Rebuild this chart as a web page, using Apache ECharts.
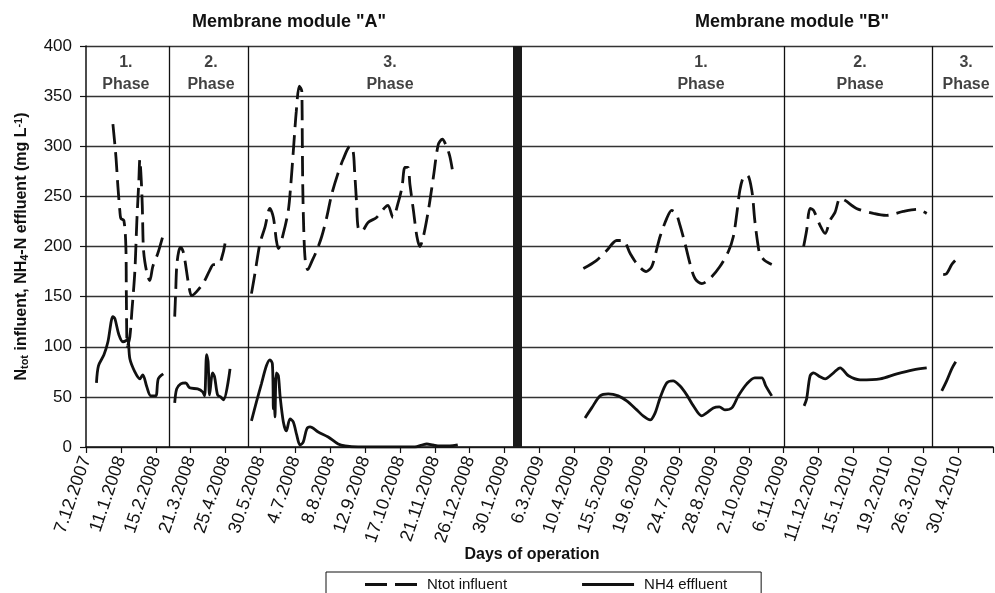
<!DOCTYPE html>
<html><head><meta charset="utf-8">
<script src="https://cdn.jsdelivr.net/npm/echarts@6/dist/echarts.min.js"></script>
<style>html,body{margin:0;padding:0;background:#fff}#c{width:995px;height:593px}</style>
</head><body><div id="c"></div>
<script>
// x values are days of operation counted from 7.12.2007
const START = Date.UTC(2007, 11, 7);
const tickStep = 35;
const xMax = 910;

const ntotA1 = [[27,322],[30,290],[32,260],[34,235],[35,228],[38,226],[40,200],[40.5,150],[41.5,100],[44,110],[46,135],[49,175],[51,225],[53,265],[54,287],[55.5,265],[56.5,240],[57.5,200],[59,185],[62,170],[64,166],[67,180],[72,193],[77,210]];
const ntotA2 = [[89,130],[90,155],[91,180],[93,195],[95,199],[98,193],[103,162],[106,151],[111,155],[118,164],[124,176],[128,182],[133,182],[136,188],[139.5,203]];
const ntotA3 = [[166,153],[169.5,173],[174.5,203],[179.5,219],[184.5,238],[188,229],[191,206],[193,198],[198,213],[203,236],[205.5,262],[208,295],[211,335],[214,360],[216.5,355],[217,308],[217.5,259],[218.5,216],[220,186],[222.5,177],[226.5,185],[231.5,196],[236.5,210],[241.5,229],[246.5,252],[252.5,272],[258,287],[265,300],[268,295],[269.5,275],[271.5,243],[273,219],[276.5,215],[283,224],[291.5,229],[300,239],[303,241],[308,229],[313,243],[317,259],[320,279],[323,279],[325,262],[328.5,236],[332,210],[335,200],[338.5,210],[343.5,236],[348.5,269],[353.5,302],[357.5,307],[362,299],[365,290],[367.5,277]];
const ntotB1 = [[499,178],[512,186],[522.5,196],[532.5,206],[539,206],[546,193],[552.6,183],[562,175],[567.6,180],[572,195],[576,210],[582.7,228],[587.6,236],[592,233],[596,221],[601,203],[606,183],[611,168],[617.8,163],[626,168],[636,180],[644.5,195],[649.5,210],[653,233],[656,256],[659.5,269],[663.5,271],[668,256],[671,226],[674,203],[676,193],[681,186],[688,182]];
const ntotB2 = [[720,200],[723,216],[726.5,238],[730,236],[736.5,221],[741.5,213],[746.5,226],[751.5,234],[756.6,248],[761.6,246],[773,238],[790,233],[803,231],[820,235],[833.5,237],[843.5,233]];
const ntotB3 = [[860,172],[863.5,173],[868.6,182],[872,186]];

const nh4A1 = [[10.5,64],[12.5,81],[18,92],[22,105],[27,130],[29,128],[33,112],[37,105],[40,106],[42,108],[44,88],[49,75],[54,68],[57,72],[61,60],[65,51],[70,51],[72.5,68],[77.5,73]];
const nh4A2 = [[89,44],[91,58],[95,63],[100,64],[104,59],[112,58],[117,55],[119,51],[121,92],[122.5,85],[124,52],[127,74],[129,70],[132,52],[135,50],[138,47],[144.5,78]];
const nh4A3 = [[166,26],[171,45],[176,63],[181,81],[184.5,87],[187,83],[188,38],[188.8,68],[189.6,30],[191,74],[193,71],[194.7,51],[198,25],[201,16],[204.7,28],[208,25],[211.4,12],[214.7,2],[218,5],[221.5,18],[224.8,20],[233,15],[243,10],[253,3],[260,1],[273,0],[300,0],[330,0],[337,2],[342,3],[348,2],[355,1],[365,1],[373,2]];
const nh4B1 = [[500.7,29],[507.4,39],[515.8,51],[524,53],[534,51],[542.5,46],[552.6,37],[559,31],[566,27],[571,34],[576,49],[582.7,64],[589,66],[595.8,61],[602.7,52],[609.4,41],[617.8,31],[622.8,34],[629.4,39],[635.4,40],[641,37],[648,39],[654.5,51],[663,63],[671,69],[678,69],[682,61],[688,51]];
const nh4B2 = [[720.5,41],[723,48],[726.5,71],[730,74],[736.5,70],[741.5,68],[750,74],[756.6,79],[765,71],[776.6,67],[796.7,68],[813.5,73],[830,77],[843.5,79]];
const nh4B3 = [[858.6,56],[863.5,66],[868.6,78],[872.6,85]];

const phaseBounds = [83.3, 162.6, 700.4, 849];
const moduleBound = 432.5;
const phaseNumbers = ['1.', '2.', '3.', '1.', '2.', '3.'];
const phaseLabelDays = [40, 125.4, 305, 617, 776.6, 883];
const phaseLabelLevel = 372;
const moduleTitles = ['Membrane module "A"', 'Membrane module "B"'];
const seriesNames = ['Ntot influent', 'NH4 effluent'];

function joinSegments(segs) {
  const out = [];
  segs.forEach((s, i) => {
    if (i > 0) out.push([s[0][0] - 0.5, null]);
    s.forEach(p => out.push(p));
  });
  return out;
}
function fmtDate(d) {
  const dt = new Date(START + d * 864e5);
  return dt.getUTCDate() + '.' + (dt.getUTCMonth() + 1) + '.' + dt.getUTCFullYear();
}

const FONT = '"Liberation Sans", Arial, sans-serif';
const chart = echarts.init(document.getElementById('c'));
chart.setOption({
  animation: false,
  textStyle: { fontFamily: FONT, color: '#111' },
  grid: { left: 86, right: 2, top: 46, bottom: 146 },
  graphic: [
    { type: 'text', x: 289, y: 22, style: { text: moduleTitles[0], font: 'bold 18px ' + FONT, fill: '#111', align: 'center', verticalAlign: 'middle' } },
    { type: 'text', x: 792, y: 22, style: { text: moduleTitles[1], font: 'bold 18px ' + FONT, fill: '#111', align: 'center', verticalAlign: 'middle' } },
    { type: 'text', x: 532, y: 555, style: { text: 'Days of operation', font: 'bold 16px ' + FONT, fill: '#111', align: 'center', verticalAlign: 'middle' } }
  ],
  legend: {
    left: 326, top: 572,
    padding: [5, 34, 10, 39],
    itemGap: 75, itemWidth: 52, itemHeight: 3,
    borderColor: '#111', borderWidth: 1, backgroundColor: '#fff',
    textStyle: { fontSize: 15, color: '#111', fontFamily: FONT, padding: [0, 0, 0, 5] },
    data: [
      { name: seriesNames[0], icon: 'path://M0,0H22V3H0Z M30,0H52V3H30Z' },
      { name: seriesNames[1], icon: 'path://M0,0H52V3H0Z' }
    ]
  },
  xAxis: {
    type: 'value', min: 0, max: xMax, interval: tickStep,
    axisLine: { lineStyle: { color: '#111', width: 1.5 } },
    axisTick: { show: true, length: 6, lineStyle: { color: '#111', width: 1.2 } },
    splitLine: { show: false },
    axisLabel: {
      rotate: 71, margin: 10, fontSize: 18, color: '#111', fontFamily: FONT,
      formatter: v => (v >= xMax ? '' : fmtDate(v))
    }
  },
  yAxis: {
    type: 'value', min: 0, max: 400, interval: 50,
    name: 'N{sub|tot} influent, NH{sub|4}-N effluent (mg L{sup|-1})',
    nameLocation: 'middle', nameGap: 56,
    nameTextStyle: {
      fontSize: 16, fontWeight: 'bold', color: '#111', fontFamily: FONT,
      rich: {
        sub: { fontSize: 11, fontWeight: 'bold', verticalAlign: 'bottom', padding: [6, 0, 0, 0], fontFamily: FONT },
        sup: { fontSize: 11, fontWeight: 'bold', verticalAlign: 'top', padding: [0, 0, 6, 0], fontFamily: FONT }
      }
    },
    axisLine: { show: true, lineStyle: { color: '#111', width: 1.5 } },
    axisTick: { show: true, length: 6, lineStyle: { color: '#111', width: 1.2 } },
    splitLine: { show: true, lineStyle: { color: '#333', width: 1.3 } },
    axisLabel: { fontSize: 17, margin: 14, color: '#111', fontFamily: FONT }
  },
  series: [
    {
      name: seriesNames[0], type: 'line', smooth: 0.3, symbol: 'none', showSymbol: false, connectNulls: false,
      data: joinSegments([ntotA1, ntotA2, ntotA3, ntotB1, ntotB2, ntotB3]),
      lineStyle: { color: '#111', width: 2.8, type: [20, 8] },
      itemStyle: { color: '#111' },
      markLine: {
        silent: true, symbol: 'none', label: { show: false },
        lineStyle: { color: '#111', width: 1.3, type: 'solid' },
        data: phaseBounds.map(d => ({ xAxis: d }))
      }
    },
    {
      name: seriesNames[1], type: 'line', smooth: 0.3, symbol: 'none', showSymbol: false, connectNulls: false,
      data: joinSegments([nh4A1, nh4A2, nh4A3, nh4B1, nh4B2, nh4B3]),
      lineStyle: { color: '#111', width: 2.8, type: 'solid' },
      itemStyle: { color: '#111' },
      markLine: {
        silent: true, symbol: 'none', label: { show: false },
        lineStyle: { color: '#1a1a1a', width: 9, type: 'solid' },
        data: [{ xAxis: moduleBound }]
      }
    },
    {
      name: 'phases', type: 'scatter', symbolSize: 0, silent: true,
      data: phaseLabelDays.map((d, i) => ({ value: [d, phaseLabelLevel], num: phaseNumbers[i] })),
      label: {
        show: true, position: 'inside', fontSize: 16, fontWeight: 'bold', color: '#111', lineHeight: 22, fontFamily: FONT,
        formatter: p => p.data.num + '\nPhase'
      }
    }
  ]
});
</script></body></html>
